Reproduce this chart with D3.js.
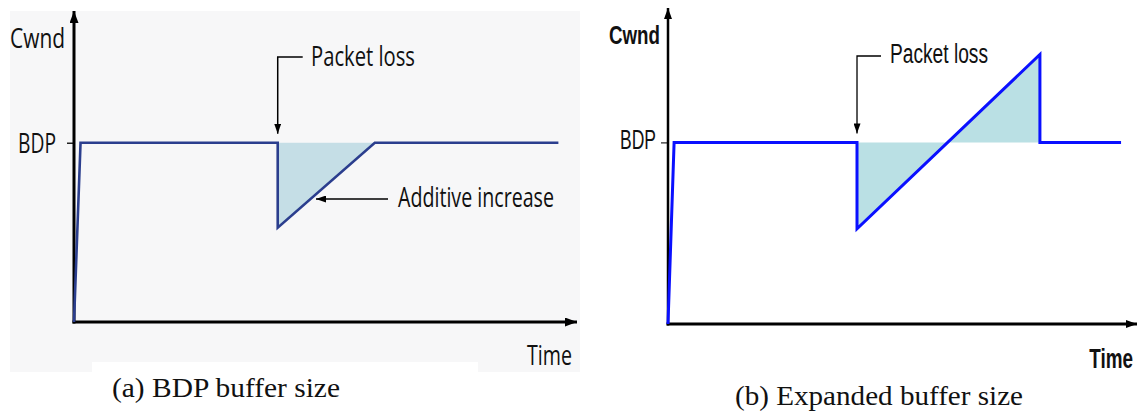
<!DOCTYPE html>
<html><head><meta charset="utf-8">
<script src="https://cdn.jsdelivr.net/npm/d3@7"></script>
<style>body{margin:0;background:#fff}svg{display:block}</style>
</head><body>
<svg id="c" width="1137" height="414"></svg>
<script>
// ---- data ----
const bdp = 100;
const timeA = [0, 1.3, 40.5, 40.5, 59.8, 96.3];
const cwndA = [0, 100, 100, 52.6, 100, 100];
const timeB = [0, 1.3, 40.3, 40.3, 79.3, 79.3, 96.6];
const cwndB = [0, 100, 100, 52.4, 148.4, 100, 100];
const tickLabels = ["BDP"];
const captions = ["(a) BDP buffer size", "(b) Expanded buffer size"];
const annotA = ["Packet loss", "Additive increase"];
const annotB = ["Packet loss"];

const svg = d3.select("#c");
const defs = svg.append("defs");

function arrowMarker(id, w, l) {
  defs.append("marker").attr("id", id).attr("viewBox", `0 0 ${l} ${w}`)
    .attr("refX", l).attr("refY", w / 2).attr("markerWidth", l).attr("markerHeight", w)
    .attr("markerUnits", "userSpaceOnUse").attr("orient", "auto")
    .append("path").attr("d", `M0,0L${l},${w / 2}L0,${w}Z`).attr("fill", "#000");
}
arrowMarker("axA", 9, 12);
arrowMarker("axB", 8, 11);
arrowMarker("an", 7, 10);

function fitText(g, str, x, y, len, size, family, weight, anchor) {
  return g.append("text").attr("x", x).attr("y", y).text(str)
    .attr("font-family", family).attr("font-size", size).attr("font-weight", weight || 400)
    .attr("text-anchor", anchor || "start")
    .attr("textLength", len).attr("lengthAdjust", "spacingAndGlyphs").attr("fill", "#111");
}
const serif = "'Liberation Serif', 'Times New Roman', Times, serif";

// ---------- panel (a) ----------
svg.append("rect").attr("x", 10).attr("y", 11).attr("width", 570).attr("height", 361).attr("fill", "#f7f7f8");
svg.append("rect").attr("x", 92).attr("y", 362).attr("width", 386).attr("height", 12).attr("fill", "#fff");

const xA = d3.scaleLinear().domain([0, 100]).range([74, 577]);
const yA = d3.scaleLinear().domain([0, 173.5]).range([322, 11]);
const gA = svg.append("g");
const sansA = "'Open Sans', 'DejaVu Sans', sans-serif";

// fill
const fillA = timeA.map((t, i) => [t, cwndA[i]]).slice(3, 5);
gA.append("path").datum(fillA)
  .attr("d", d3.area().x(d => xA(d[0])).y0(yA(bdp)).y1(d => yA(d[1])))
  .attr("fill", "#c5dee6");

// axes with ticks
const axA = gA.append("g").attr("transform", `translate(${xA(0)},0)`)
  .call(d3.axisLeft(yA).tickValues([bdp]).tickFormat(() => tickLabels[0]).tickSize(7).tickSizeOuter(0));
axA.select(".domain").remove();
axA.selectAll(".tick line").attr("stroke", "#222").attr("stroke-width", 1.5);
axA.selectAll(".tick text").remove();
fitText(gA, tickLabels[0], 56, yA(bdp) + 10, 38, 27, sansA, 400, "end");

gA.append("line").attr("x1", xA(0)).attr("y1", yA(0) + 1.5).attr("x2", xA(0)).attr("y2", yA.range()[1])
  .attr("stroke", "#000").attr("stroke-width", 3).attr("marker-end", "url(#axA)");
gA.append("line").attr("x1", xA(0) - 1.5).attr("y1", yA(0)).attr("x2", xA.range()[1]).attr("y2", yA(0))
  .attr("stroke", "#000").attr("stroke-width", 3).attr("marker-end", "url(#axA)");

// line
gA.append("path").datum(timeA.map((t, i) => [t, cwndA[i]]))
  .attr("d", d3.line().x(d => xA(d[0])).y(d => yA(d[1])))
  .attr("fill", "none").attr("stroke", "#2b3e8e").attr("stroke-width", 2.6).attr("stroke-linejoin", "miter");

// annotations
const plxA = xA(timeA[2]);
gA.append("path").attr("d", `M${plxA + 25},57H${plxA}V${yA(bdp) - 9}`)
  .attr("fill", "none").attr("stroke", "#000").attr("stroke-width", 1.5).attr("marker-end", "url(#an)");
fitText(gA, annotA[0], 311, 66, 104, 28, sansA);
gA.append("line").attr("x1", 388).attr("y1", 199).attr("x2", 316).attr("y2", 199)
  .attr("stroke", "#000").attr("stroke-width", 1.5).attr("marker-end", "url(#an)");
fitText(gA, annotA[1], 398, 207, 156, 28, sansA);
fitText(gA, "Cwnd", 10, 48, 55, 28, sansA);
fitText(gA, "Time", 527, 365, 45, 28, sansA);
fitText(gA, captions[0], 112, 397, 228, 28, serif);

// ---------- panel (b) ----------
const xB = d3.scaleLinear().domain([0, 100]).range([668, 1137]);
const yB = d3.scaleLinear().domain([0, 174]).range([324, 8]);
const gB = svg.append("g");
const sansB = "'Liberation Sans', Arial, sans-serif";

const fillB = timeB.map((t, i) => [t, cwndB[i]]).slice(3, 5);
gB.append("path").datum(fillB)
  .attr("d", d3.area().x(d => xB(d[0])).y0(yB(bdp)).y1(d => yB(d[1])))
  .attr("fill", "#bae0e4");

const axB = gB.append("g").attr("transform", `translate(${xB(0)},0)`)
  .call(d3.axisLeft(yB).tickValues([bdp]).tickFormat(() => tickLabels[0]).tickSize(7).tickSizeOuter(0));
axB.select(".domain").remove();
axB.selectAll(".tick line").attr("stroke", "#222").attr("stroke-width", 1.2);
axB.selectAll(".tick text").remove();
fitText(gB, tickLabels[0], 656, yB(bdp) + 7, 36, 27, sansB, 400, "end");

gB.append("line").attr("x1", xB(0)).attr("y1", yB(0) + 1.5).attr("x2", xB(0)).attr("y2", yB.range()[1])
  .attr("stroke", "#000").attr("stroke-width", 2.5).attr("marker-end", "url(#axB)");
gB.append("line").attr("x1", xB(0) - 1.5).attr("y1", yB(0)).attr("x2", xB.range()[1]).attr("y2", yB(0))
  .attr("stroke", "#000").attr("stroke-width", 3).attr("marker-end", "url(#axB)");

gB.append("path").datum(timeB.map((t, i) => [t, cwndB[i]]))
  .attr("d", d3.line().x(d => xB(d[0])).y(d => yB(d[1])))
  .attr("fill", "none").attr("stroke", "#0a10ff").attr("stroke-width", 3).attr("stroke-linejoin", "miter");

const plxB = xB(timeB[2]);
gB.append("path").attr("d", `M${plxB + 24},56H${plxB}V${yB(bdp) - 9}`)
  .attr("fill", "none").attr("stroke", "#000").attr("stroke-width", 1.3).attr("marker-end", "url(#an)");
fitText(gB, annotB[0], 890, 63, 98, 27, sansB);
fitText(gB, "Cwnd", 609, 44, 51, 26, sansB, 700);
gB.append("text").attr("transform", "translate(1133,368) scale(0.7,1)").text("Time")
  .attr("font-family", sansB).attr("font-size", 27).attr("font-weight", 700)
  .attr("text-anchor", "end").attr("fill", "#111");
fitText(gB, captions[1], 735, 405, 288, 28, serif);
</script>
</body></html>
